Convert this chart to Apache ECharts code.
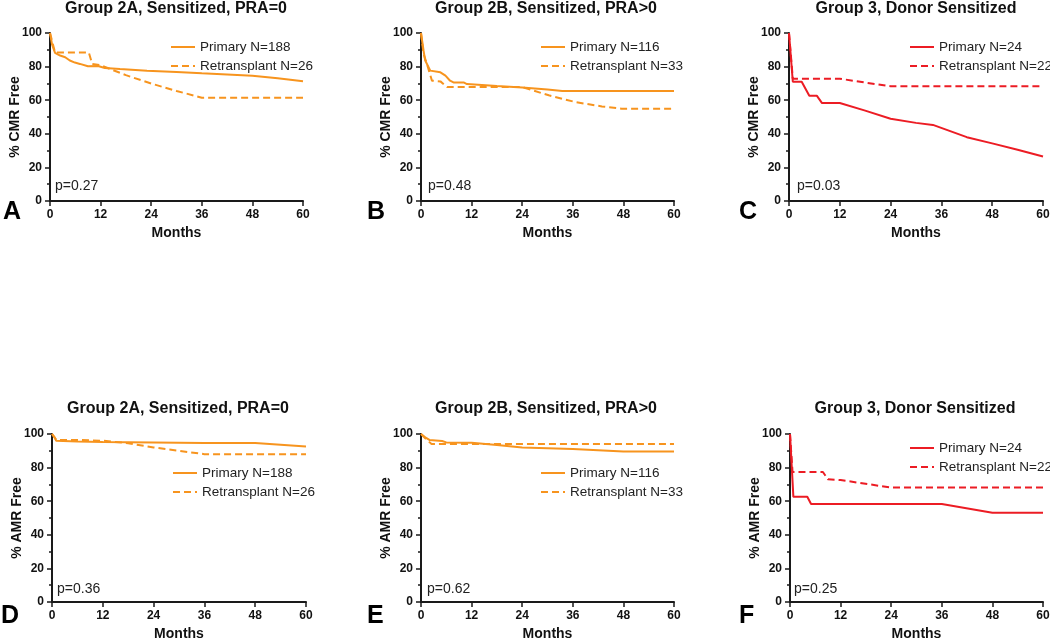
<!DOCTYPE html>
<html>
<head>
<meta charset="utf-8">
<script src="https://cdn.jsdelivr.net/npm/echarts@6/dist/echarts.min.js"></script>
<style>
html,body{margin:0;padding:0;background:#fff;}
#chart{width:1050px;height:641px;}
</style>
</head>
<body>
<div id="chart"></div>
<script>
// ---------- DATA ----------
const monthTicks = [0, 12, 24, 36, 48, 60];
const pctTicks = [0, 20, 40, 60, 80, 100];

const titles = ['Group 2A, Sensitized, PRA=0', 'Group 2B, Sensitized, PRA>0', 'Group 3, Donor Sensitized'];
const pValuesCMR = ['p=0.27', 'p=0.48', 'p=0.03'];
const pValuesAMR = ['p=0.36', 'p=0.62', 'p=0.25'];
const seriesNames = [
  ['Primary N=188', 'Retransplant N=26'],
  ['Primary N=116', 'Retransplant N=33'],
  ['Primary N=24', 'Retransplant N=22']
];
const panelLetters = ['A', 'B', 'C', 'D', 'E', 'F'];

// Panel A – CMR, Group 2A
const cmrA_primary_months = [0, 0.5, 1.2, 2.4, 3.6, 4.7, 5.9, 7.1, 9, 11.4, 13, 16.6, 23, 30, 36, 42, 48, 54, 60];
const cmrA_primary_pct    = [100, 93, 88.2, 86.6, 85.6, 83.6, 82.4, 81.6, 80.2, 80.4, 79.2, 78.6, 77.6, 76.8, 76, 75.3, 74.6, 73, 71.3];
const cmrA_retx_months = [0, 1.2, 9.2, 10, 12, 18, 24, 30, 36, 60];
const cmrA_retx_pct    = [100, 88.4, 88.4, 81.6, 80.8, 74.9, 69.9, 65.5, 61.5, 61.5];

// Panel B – CMR, Group 2B
const cmrB_primary_months = [0, 0.6, 1, 2.2, 2.6, 4.6, 5.8, 6.9, 7.7, 10.1, 10.9, 18, 24, 30, 33.5, 60];
const cmrB_primary_pct    = [100, 89.6, 83.6, 77.6, 76.6, 76.6, 74.6, 71.6, 70.6, 70.6, 69.6, 68.5, 67.6, 66.3, 65.5, 65.5];
const cmrB_retx_months = [0, 0.6, 1.4, 2.6, 4.6, 6.2, 24, 30.3, 36.6, 42.9, 47.6, 60];
const cmrB_retx_pct    = [100, 87.6, 81.6, 71.6, 71.2, 67.8, 67.8, 62.9, 58.9, 56.3, 54.9, 54.9];

// Panel C – CMR, Group 3
const cmrC_primary_months = [0, 0.9, 3, 4.8, 6.6, 7.8, 12, 18, 24, 30, 34, 42, 48, 54, 60];
const cmrC_primary_pct    = [100, 71, 71, 62.6, 62.6, 58.3, 58.3, 53.8, 49, 46.5, 45.3, 38, 34.3, 30.5, 26.5];
const cmrC_retx_months = [0, 0.9, 12, 18, 24, 60];
const cmrC_retx_pct    = [100, 72.8, 72.8, 70.5, 68.3, 68.3];

// Panel D – AMR, Group 2A
const amrD_primary_months = [0, 0.5, 1, 6, 12, 24, 36, 48, 60];
const amrD_primary_pct    = [100, 98.5, 96, 95.5, 95.3, 95, 94.7, 94.7, 92.5];
const amrD_retx_months = [0, 1, 6, 12, 18, 24, 30, 36, 60];
const amrD_retx_pct    = [100, 96.5, 96.5, 96, 94.5, 92, 90, 88, 88];

// Panel E – AMR, Group 2B
const amrE_primary_months = [0, 1, 2, 5, 6, 12, 18, 24, 36, 48, 60];
const amrE_primary_pct    = [100, 98, 96.5, 95.8, 95, 94.8, 93.5, 92, 91, 89.6, 89.6];
const amrE_retx_months = [0, 1, 2.5, 60];
const amrE_retx_pct    = [100, 97.5, 94, 94];

// Panel F – AMR, Group 3
const amrF_primary_months = [0, 0.8, 4.1, 5, 36, 48, 60];
const amrF_primary_pct    = [100, 62.6, 62.6, 58.3, 58.3, 53.1, 53.1];
const amrF_retx_months = [0, 0.6, 7.8, 9, 12, 24, 60];
const amrF_retx_pct    = [100, 77.4, 77.4, 73, 72.6, 68.1, 68.1];

// ---------- STYLE / LAYOUT ----------
const FONT = 'Liberation Sans, Arial, Helvetica, sans-serif';
const ORANGE = '#F7941E';
const RED = '#EC1C24';
const AXIS = '#1a1a1a';

const panels = [
  {grid:{left:50, top:33, width:253, height:168}, title:0, yName:'% CMR Free', p:pValuesCMR[0], names:seriesNames[0], color:ORANGE,
   data:[[cmrA_primary_months, cmrA_primary_pct],[cmrA_retx_months, cmrA_retx_pct]], legend:[170,40], pPos:[55,187], letter:[3,214], titleX:176, titleTop:1},
  {grid:{left:421, top:33, width:253, height:168}, title:1, yName:'% CMR Free', p:pValuesCMR[1], names:seriesNames[1], color:ORANGE,
   data:[[cmrB_primary_months, cmrB_primary_pct],[cmrB_retx_months, cmrB_retx_pct]], legend:[540,40], pPos:[428,187], letter:[367,214], titleX:546, titleTop:1},
  {grid:{left:789, top:33, width:254, height:168}, title:2, yName:'% CMR Free', p:pValuesCMR[2], names:seriesNames[2], color:RED,
   data:[[cmrC_primary_months, cmrC_primary_pct],[cmrC_retx_months, cmrC_retx_pct]], legend:[909,40], pPos:[797,187], letter:[739,214], titleX:916, titleTop:1},
  {grid:{left:52, top:434, width:254, height:168}, title:0, yName:'% AMR Free', p:pValuesAMR[0], names:seriesNames[0], color:ORANGE,
   data:[[amrD_primary_months, amrD_primary_pct],[amrD_retx_months, amrD_retx_pct]], legend:[172,466], pPos:[57,590], letter:[1,618], titleX:178, titleTop:401},
  {grid:{left:421, top:434, width:253, height:168}, title:1, yName:'% AMR Free', p:pValuesAMR[1], names:seriesNames[1], color:ORANGE,
   data:[[amrE_primary_months, amrE_primary_pct],[amrE_retx_months, amrE_retx_pct]], legend:[540,466], pPos:[427,590], letter:[367,618], titleX:546, titleTop:401},
  {grid:{left:790, top:434, width:253, height:168}, title:2, yName:'% AMR Free', p:pValuesAMR[2], names:seriesNames[2], color:RED,
   data:[[amrF_primary_months, amrF_primary_pct],[amrF_retx_months, amrF_retx_pct]], legend:[909,441], pPos:[794,590], letter:[739,618], titleX:915, titleTop:401}
];

const grid = [], xAxis = [], yAxis = [], series = [], legend = [], title = [], graphic = [];

panels.forEach((pn, i) => {
  grid.push(Object.assign({outerBoundsMode:'none', containLabel:false}, pn.grid));
  xAxis.push({
    type:'value', gridIndex:i, min:monthTicks[0], max:monthTicks[monthTicks.length-1], interval:monthTicks[1]-monthTicks[0],
    name:'Months', nameLocation:'middle', nameGap:25, nameMoveOverlap:false,
    nameTextStyle:{fontFamily:FONT, fontWeight:'bold', fontSize:14, color:'#111'},
    axisLine:{show:true, onZero:false, lineStyle:{color:AXIS, width:2}},
    axisTick:{show:true, length:5, lineStyle:{color:AXIS, width:1.5}},
    axisLabel:{fontFamily:FONT, fontWeight:'bold', fontSize:12, color:'#111', margin:8},
    splitLine:{show:false}
  });
  yAxis.push({
    type:'value', gridIndex:i, min:pctTicks[0], max:pctTicks[pctTicks.length-1], interval:pctTicks[1]-pctTicks[0],
    name:pn.yName, nameLocation:'middle', nameGap:28, nameMoveOverlap:false,
    nameTextStyle:{fontFamily:FONT, fontWeight:'bold', fontSize:14, color:'#111'},
    axisLine:{show:true, onZero:false, lineStyle:{color:AXIS, width:2}},
    axisTick:{show:true, length:5, lineStyle:{color:AXIS, width:1.5}},
    minorTick:{show:true, splitNumber:2, length:3, lineStyle:{color:AXIS, width:1.5}},
    axisLabel:{fontFamily:FONT, fontWeight:'bold', fontSize:12, color:'#111', margin:8},
    splitLine:{show:false}, minorSplitLine:{show:false}
  });
  pn.data.forEach((d, k) => {
    series.push({
      type:'line', name:pn.names[k], xAxisIndex:i, yAxisIndex:i,
      data:d[0].map((m, j) => [m, d[1][j]]),
      symbol:'none', showSymbol:false, smooth:false, silent:true, animation:false,
      color:pn.color,
      lineStyle:{color:pn.color, width:2, type: k === 0 ? 'solid' : [7, 4]}
    });
  });
  legend.push({
    show:true, orient:'vertical', left:pn.legend[0], top:pn.legend[1], padding:0,
    itemWidth:24, itemHeight:14, itemGap:5, selectedMode:false,
    itemStyle:{opacity:0, borderWidth:0},
    data:pn.names.map(n => ({name:n})),
    textStyle:{fontFamily:FONT, fontSize:13.5, color:'#222'}
  });
  title.push({
    text:titles[pn.title], left:pn.titleX, top:pn.titleTop, textAlign:'center', padding:0,
    textStyle:{fontFamily:FONT, fontWeight:'bold', fontSize:16, color:'#111'}
  });
  graphic.push({
    type:'text', left:pn.pPos[0], top:pn.pPos[1]-8,
    style:{text:pn.p, font:'14px ' + FONT, fill:'#222'}
  });
  graphic.push({
    type:'text', left:pn.letter[0], top:pn.letter[1]-14,
    style:{text:panelLetters[i], font:'bold 25px ' + FONT, fill:'#000'}
  });
});

const chart = echarts.init(document.getElementById('chart'), null, {renderer:'canvas'});
chart.setOption({
  backgroundColor:'#fff',
  animation:false,
  title, legend, grid, xAxis, yAxis, series, graphic
});
</script>
</body>
</html>
